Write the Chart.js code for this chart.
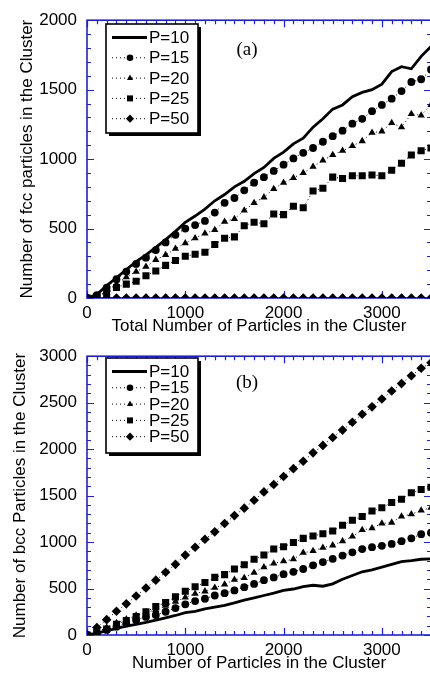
<!DOCTYPE html>
<html>
<head>
<meta charset="utf-8">
<script src="https://cdn.jsdelivr.net/npm/chart.js@4"></script>
<style>
  html, body { margin: 0; padding: 0; background: #fff; overflow: hidden; }
  #wrap { position: relative; width: 430px; height: 673px; overflow: hidden; }
  canvas { position: absolute; left: 0; }
  #chartA { top: 0; }
  #chartB { top: 336px; }
</style>
</head>
<body>
<div id="wrap">
  <canvas id="chartA" width="436" height="336"></canvas>
  <canvas id="chartB" width="436" height="337"></canvas>
</div>
<script>
// cluster size (x) shared by all curves
var xVals = [0,100,200,300,400,500,600,700,800,900,1000,1100,1200,1300,1400,1500,1600,1700,
  1800,1900,2000,2100,2200,2300,2400,2500,2600,2700,2800,2900,3000,3100,3200,3300,3400,3500];
var seriesLabels = ['P=10', 'P=15', 'P=20', 'P=25', 'P=50'];

// (a) fcc particles
var fccP10 = [0,25,90,145,205,262,310,365,420,480,545,590,640,700,745,800,840,895,
  940,1005,1050,1110,1150,1230,1290,1360,1390,1450,1480,1500,1540,1630,1665,1650,1740,1810];
var fccP15 = [0,20,75,135,190,245,290,345,400,455,500,525,555,615,685,720,775,830,
  870,915,960,1005,1045,1080,1125,1165,1205,1255,1290,1345,1390,1435,1490,1555,1575,1645];
var fccP20 = [0,10,50,100,150,190,225,275,310,355,395,430,465,490,550,570,630,685,
  725,785,830,865,900,945,990,1030,1060,1095,1130,1190,1200,1260,1230,1325,1315,1390];
var fccP25 = [0,10,35,75,100,120,160,195,235,270,300,315,330,385,430,440,520,545,
  535,605,600,660,650,770,790,870,860,880,880,885,880,920,970,1030,1060,1080];
var fccP50 = [0,0,0,0,0,0,0,0,0,0,0,0,0,0,0,0,0,0,
  0,0,0,0,0,0,0,0,0,0,0,0,0,0,0,0,0,0];

// (b) bcc particles
var bccP10 = [0,20,45,70,95,115,135,160,185,210,240,255,280,300,320,345,375,400,
  425,450,480,495,520,535,525,550,600,640,680,700,730,760,790,800,815,820];
var bccP15 = [0,20,55,90,125,160,195,215,250,290,330,365,390,425,450,480,515,550,
  590,620,655,680,710,750,785,820,855,890,925,945,960,980,1010,1040,1085,1100];
var bccP20 = [0,35,80,130,170,210,245,270,315,360,405,445,470,510,545,595,615,670,
  730,770,795,815,885,905,940,965,1010,1060,1130,1150,1200,1210,1275,1300,1340,1370];
var bccP25 = [0,30,65,115,155,200,250,305,350,410,470,520,565,620,650,710,755,815,
  860,925,950,995,1040,1065,1090,1120,1180,1235,1275,1335,1370,1425,1460,1530,1565,1590];
var bccP50 = [0,80,165,255,335,420,505,590,675,760,860,945,1030,1110,1200,1285,1365,1450,
  1540,1620,1705,1790,1870,1960,2040,2125,2205,2290,2375,2455,2540,2625,2705,2790,2870,2930];

var xTicks = [0, 1000, 2000, 3000];
var fccTicks = [0, 500, 1000, 1500, 2000];
var bccTicks = [0, 500, 1000, 1500, 2000, 2500, 3000];

var BLUE = 'rgb(30,30,225)';
var FONT = '"Liberation Sans", Arial, sans-serif';
var markers = [false, 'circle', 'triangle', 'rect', 'rectRot'];
var markerSize = [0, 3.9, 4.2, 5, 4.8];

function pts(ys) {
  return xVals.map(function (x, i) { return { x: x, y: ys[i] }; });
}

function makeSets(list) {
  return list.map(function (ys, i) {
    var solid = i === 0;
    return {
      label: seriesLabels[i],
      data: pts(ys),
      borderColor: '#000',
      backgroundColor: '#000',
      borderWidth: solid ? 2.8 : 1,
      borderDash: solid ? [] : [1, 3],
      pointStyle: markers[i],
      pointRadius: markerSize[i],
      pointBorderWidth: 0,
      tension: 0
    };
  });
}

// blue frame with inward ticks on all four sides, legend box, panel tag
var framePlugin = {
  id: 'frame',
  beforeDatasetsDraw: function (chart) {
    var ctx = chart.ctx, a = chart.chartArea, sx = chart.scales.x, sy = chart.scales.y;
    ctx.save();
    ctx.strokeStyle = BLUE;
    ctx.lineWidth = 1.6;
    ctx.strokeRect(a.left, a.top, a.right - a.left, a.bottom - a.top);
    ctx.lineWidth = 1.2;
    ctx.beginPath();
    for (var v = 0; v <= sx.max; v += 100) {
      var px = Math.round(sx.getPixelForValue(v)) + 0.5;
      var len = v % 1000 === 0 ? 7 : 4;
      ctx.moveTo(px, a.bottom); ctx.lineTo(px, a.bottom - len);
      ctx.moveTo(px, a.top); ctx.lineTo(px, a.top + len);
    }
    for (var w = 0; w <= sy.max; w += 100) {
      var py = Math.round(sy.getPixelForValue(w)) + 0.5;
      var l2 = w % 500 === 0 ? 7 : 4;
      ctx.moveTo(a.left, py); ctx.lineTo(a.left + l2, py);
      ctx.moveTo(a.right, py); ctx.lineTo(a.right - l2, py);
    }
    ctx.stroke();
    ctx.restore();
  },
  afterDraw: function (chart) {
    var o = chart.options.plugins.frame;
    var ctx = chart.ctx;
    var b = o.box;
    ctx.save();
    ctx.fillStyle = '#000';
    ctx.fillRect(b.x + 3, b.y + 3, b.w, b.h);
    ctx.fillStyle = '#fff';
    ctx.fillRect(b.x, b.y, b.w, b.h);
    ctx.strokeStyle = '#000';
    ctx.lineWidth = 1.6;
    ctx.strokeRect(b.x, b.y, b.w, b.h);
    ctx.font = '17px ' + FONT;
    ctx.textBaseline = 'middle';
    chart.data.datasets.forEach(function (ds, i) {
      var ry = b.y + o.rowStart + i * o.rowGap;
      ctx.strokeStyle = '#000';
      ctx.lineWidth = ds.borderWidth;
      ctx.setLineDash(ds.borderDash);
      ctx.beginPath();
      ctx.moveTo(b.x + 6, ry);
      ctx.lineTo(b.x + 41, ry);
      ctx.stroke();
      ctx.setLineDash([]);
      if (ds.pointStyle) {
        ctx.fillStyle = '#000';
        Chart.helpers.drawPoint(ctx, { pointStyle: ds.pointStyle, radius: ds.pointRadius * 0.85, rotation: 0, borderWidth: 0 }, b.x + 24, ry);
      }
      ctx.fillStyle = '#000';
      ctx.fillText(ds.label, b.x + 43, ry + 1);
    });
    ctx.font = '19px "Liberation Serif", "Times New Roman", serif';
    ctx.textAlign = 'center';
    ctx.fillText(o.tag, 247, o.tagY);
    ctx.restore();
  }
};

function plain(v) { return String(v); }

function makeChart(id, list, yMax, yTicks, xTitle, yTitle, yTitlePad, extra) {
  var ctx = document.getElementById(id).getContext('2d');
  return new Chart(ctx, {
    type: 'line',
    data: { datasets: makeSets(list) },
    options: {
      responsive: false,
      animation: false,
      devicePixelRatio: 1,
      layout: { padding: { top: 17, right: 2, left: 0, bottom: 0 } },
      plugins: {
        legend: { display: false },
        tooltip: { enabled: false },
        frame: extra
      },
      scales: {
        x: {
          type: 'linear', min: 0, max: 3500,
          grid: { display: false, drawTicks: false },
          border: { display: false },
          afterBuildTicks: function (s) { s.ticks = xTicks.map(function (v) { return { value: v }; }); },
          afterFit: function (s) { s.height = 38; },
          ticks: { autoSkip: false, maxRotation: 0, padding: 5, color: '#000', callback: plain,
            font: { family: FONT, size: 17 } },
          title: { display: true, text: xTitle, color: '#000', padding: { top: 0, bottom: -1 },
            font: { family: FONT, size: 17 } }
        },
        y: {
          type: 'linear', min: 0, max: yMax,
          grid: { display: false, drawTicks: false },
          border: { display: false },
          afterBuildTicks: function (s) { s.ticks = yTicks.map(function (v) { return { value: v }; }); },
          afterFit: function (s) { s.width = 87; },
          ticks: { autoSkip: false, padding: 10, color: '#000', callback: plain,
            font: { family: FONT, size: 17 } },
          title: { display: true, text: yTitle, color: '#000', padding: { top: yTitlePad, bottom: 0 },
            font: { family: FONT, size: 17 } }
        }
      }
    },
    plugins: [framePlugin]
  });
}

makeChart('chartA', [fccP10, fccP15, fccP20, fccP25, fccP50], 2000, fccTicks,
  'Total Number of Particles in the Cluster', 'Number of fcc particles in the Cluster', 17,
  { box: { x: 106, y: 24, w: 92, h: 109 }, rowStart: 13.5, rowGap: 20.3, tag: '(a)', tagY: 50 });

makeChart('chartB', [bccP10, bccP15, bccP20, bccP25, bccP50], 3000, bccTicks,
  'Number of Particles in the Cluster', 'Number of bcc Particles in the Cluster', 10,
  { box: { x: 106, y: 22, w: 92, h: 95 }, rowStart: 13.5, rowGap: 16.3, tag: '(b)', tagY: 47 });
</script>
</body>
</html>
